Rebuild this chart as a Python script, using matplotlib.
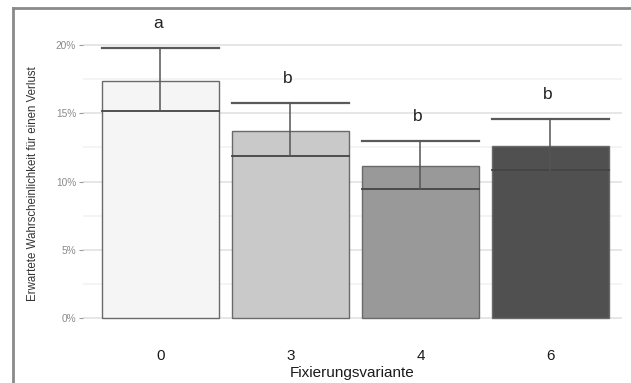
import numpy as np
import matplotlib.pyplot as plt
from matplotlib.ticker import FuncFormatter, MultipleLocator

plt.rcParams['font.family'] = ['Liberation Sans', 'DejaVu Sans']

# data (in %)
variants = ['0', '3', '4', '6']
mean = [17.35, 13.7, 11.1, 12.6]
lower = [15.2, 11.9, 9.45, 10.85]
upper = [19.8, 15.75, 12.95, 14.6]
letters = ['a', 'b', 'b', 'b']
colors = ['#f5f5f5', '#c9c9c9', '#999999', '#505050']

W, H = 631, 383
fig = plt.figure(figsize=(W / 100, H / 100), dpi=100)
ax = fig.add_axes([83 / W, 53 / H, 539 / W, 315 / H])

x = np.arange(len(variants))
ax.bar(x, mean, width=0.9, color=colors, edgecolor='#6a6a6a', linewidth=1.0, zorder=2)
for i in range(len(x)):
    lo, hi = lower[i], upper[i]
    ax.plot([x[i] - 0.45, x[i] + 0.45], [lo, lo], color='#444444', lw=1.3, zorder=3)
    ax.plot([x[i] - 0.45, x[i] + 0.45], [hi, hi], color='#5a5a5a', lw=1.6, zorder=3)
    ax.plot([x[i], x[i]], [lo, hi], color='#555555', lw=1.1, zorder=3)
    ax.text(x[i] - 0.02, hi + 1.8, letters[i], ha='center', va='center', fontsize=12.5, color='#222222')

ax.set_xlim(-0.596, 3.55)
ax.set_ylim(-0.88, 22.2)
ax.yaxis.set_minor_locator(MultipleLocator(2.5))
ax.yaxis.set_major_formatter(FuncFormatter(lambda v, p: '%d%%' % v))
ax.set_yticks([0, 5, 10, 15, 20])
ax.grid(axis='y', which='major', color='#e4e4e4', lw=1.3, zorder=0)
ax.grid(axis='y', which='minor', color='#f1f1f1', lw=1.1, zorder=0)
ax.set_xticks(x)
ax.set_xticklabels(variants, fontsize=11, color='#1a1a1a')
ax.tick_params(axis='x', length=0, pad=14)
ax.tick_params(axis='y', which='major', length=3, color='#999999', labelsize=7.3, labelcolor='#8a8a8a', pad=2)
ax.tick_params(axis='y', which='minor', length=0)
for s in ax.spines.values():
    s.set_visible(False)
ax.set_xlabel('Fixierungsvariante', fontsize=11, color='#1a1a1a', labelpad=2)

fig.text(33 / W, 1 - 184 / H, 'Erwartete Wahrscheinlichkeit für einen Verlust',
         rotation=90, ha='center', va='center', fontsize=8.3, color='#333333')

# frame around the figure (top and left edge)
fig.add_artist(plt.Line2D([13 / W, 1], [1 - 7.5 / H, 1 - 7.5 / H], color='#8a8a8a', lw=2, transform=fig.transFigure))
fig.add_artist(plt.Line2D([13 / W, 13 / W], [0, 1 - 7.5 / H], color='#8a8a8a', lw=2, transform=fig.transFigure))

fig.savefig('out.png', dpi=100)
